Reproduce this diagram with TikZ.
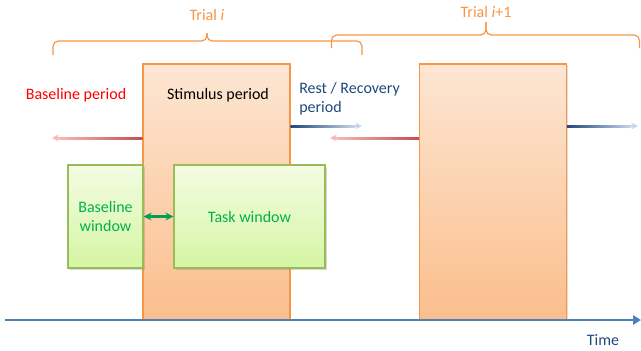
\documentclass[tikz,border=0pt]{standalone}
\usepackage{fontspec}
\setmainfont{Carlito}
\usetikzlibrary{arrows.meta,shadows,calc}
\definecolor{orng}{HTML}{F79646}
\definecolor{stimtop}{HTML}{FDE6D3}
\definecolor{stimbot}{HTML}{FBBE8C}
\definecolor{grntop}{HTML}{F3FCE3}
\definecolor{grnbot}{HTML}{D5F5A3}
\definecolor{grnline}{HTML}{9BBB59}
\definecolor{grntext}{HTML}{00B050}
\definecolor{grnarrow}{HTML}{00A050}
\definecolor{navy}{HTML}{1F497D}
\definecolor{paleblue}{HTML}{C9D6EA}
\definecolor{darkred}{HTML}{C0504D}
\definecolor{palered}{HTML}{F6B8B6}
\definecolor{axisblue}{HTML}{4F81BD}
% #1 near (box side), #2 far end, #3 near colour, #4 far colour, #5 colour on the page-left, #6 colour on the page-right
\newcommand\fadearrow[6]{%
  \shade[left color=#5, right color=#6] ($(#1)+(0,-1)$) rectangle ($(#2)!5pt!(#1)+(0,1)$);
  \draw[line width=1.5pt, #4, -{Stealth[length=5pt,width=5pt]}] ($(#2)!5.5pt!(#1)$) -- (#2);
}
\tikzset{
  stimbox/.style={draw=orng, line width=0.9pt, top color=stimtop, bottom color=stimbot,
    minimum width=110.25pt, minimum height=192pt, inner sep=0pt,
    drop shadow={shadow xshift=1pt, shadow yshift=-1pt, opacity=0.25}},
  winbox/.style={draw=grnline, line width=0.9pt, top color=grntop, bottom color=grnbot,
    minimum height=77.25pt, inner sep=0pt, text=grntext, align=center,
    drop shadow={shadow xshift=1.2pt, shadow yshift=-1.2pt, opacity=0.3}},
  brace/.style={draw=orng, line width=0.9pt, rounded corners=4pt},
  lbl/.style={inner sep=0pt},
}
\begin{document}
\begin{tikzpicture}[x=0.75pt, y=-0.75pt, font=\fontsize{12}{14.5}\selectfont]
\useasboundingbox (0,0) rectangle (641,350);
% braces
\draw[brace] (53,55) -- (53,41) -- (207,41) -- (207,33);
\draw[brace] (362,55) -- (362,41) -- (207,41) -- (207,33);
\draw[brace] (331.5,48) -- (331.5,35) -- (486,35) -- (486,22);
\draw[brace] (639.5,48) -- (639.5,35) -- (486,35) -- (486,22);
\node[lbl, text=orng] (ti) at (207,15) {Trial \textit{i}};
\node[lbl, text=orng] (ti1) at (486,12) {Trial \textit{i}+1};
% stimulus boxes
\node[stimbox] (s1) at (216.5,192) {};
\node[stimbox] (s2) at (493,192) {};
\node[lbl] (sp) at (218,95) {Stimulus period};
\node[lbl, text=red] (bp) at (76,95) {Baseline period};
\node[lbl, text=navy, anchor=west, align=left] (rp) at (299,98.5) {Rest / Recovery\\period};
% period arrows
\coordinate (r1) at (52,138);
\coordinate (b1) at (362,126);
\coordinate (r2) at (330,138);
\coordinate (b2) at (638,126);
\fadearrow{s1.west |- r1}{r1}{darkred}{palered}{palered}{darkred}
\fadearrow{s1.east |- b1}{b1}{navy}{paleblue}{navy}{paleblue}
\fadearrow{s2.west |- r2}{r2}{darkred}{palered}{palered}{darkred}
\fadearrow{s2.east |- b2}{b2}{navy}{paleblue}{navy}{paleblue}
% windows
\node[winbox, minimum width=56.25pt] (bw) at (105.5,216.5) {Baseline\\window};
\node[winbox, minimum width=113.25pt] (tw) at (249.5,216.5) {Task window};
\draw[grnarrow, line width=1.6pt, {Stealth[length=6pt,width=6pt]}-{Stealth[length=6pt,width=6pt]}] (bw.east) -- (tw.west);
% time axis
\coordinate (a0) at (5,320);
\coordinate (a1) at (641,320);
\draw[axisblue, line width=2pt, -{Triangle[length=6pt,width=7pt]}] (a0) -- (a1);
\node[lbl, text=navy] (tm) at (603,340) {Time};
\end{tikzpicture}
\end{document}
